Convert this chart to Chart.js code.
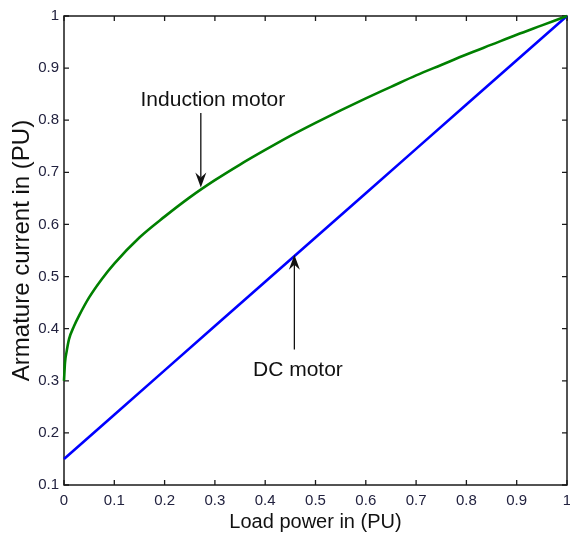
<!DOCTYPE html>
<html>
<head>
<meta charset="utf-8">
<script src="https://cdn.jsdelivr.net/npm/chart.js@4"></script>
<style>
  html, body { margin: 0; padding: 0; background: #fff; }
  #wrap { width: 570px; height: 543px; }
</style>
</head>
<body>
<div id="wrap"><canvas id="c" width="570" height="543"></canvas></div>
<script>
// ---- data ----
const inductionX = [0, 0.002, 0.005, 0.01, 0.02, 0.03, 0.05, 0.075, 0.1, 0.15, 0.2, 0.25, 0.3, 0.35, 0.4, 0.45, 0.5, 0.55, 0.6, 0.65, 0.7, 0.75, 0.8, 0.85, 0.9, 0.95, 1.0];
const inductionY = [0.30, 0.335, 0.355, 0.38, 0.405, 0.425, 0.46, 0.495, 0.525, 0.575, 0.615, 0.652, 0.685, 0.715, 0.743, 0.770, 0.795, 0.819, 0.842, 0.864, 0.886, 0.906, 0.926, 0.945, 0.964, 0.982, 1.0];
const dcX = [0, 0.1, 0.2, 0.3, 0.4, 0.5, 0.6, 0.7, 0.8, 0.9, 1.0];
const dcY = [0.15, 0.235, 0.32, 0.405, 0.49, 0.575, 0.66, 0.745, 0.83, 0.915, 1.0];

const xTickValues = [0, 0.1, 0.2, 0.3, 0.4, 0.5, 0.6, 0.7, 0.8, 0.9, 1];
const xTickLabels = ['0', '0.1', '0.2', '0.3', '0.4', '0.5', '0.6', '0.7', '0.8', '0.9', '1'];
const yTickValues = [0.1, 0.2, 0.3, 0.4, 0.5, 0.6, 0.7, 0.8, 0.9, 1];
const yTickLabels = ['0.1', '0.2', '0.3', '0.4', '0.5', '0.6', '0.7', '0.8', '0.9', '1'];

const xTitle = 'Load power in (PU)';
const yTitle = 'Armature current in (PU)';

// annotations: label text, label position (data), arrow start and tip (data)
const annotations = [
  { text: 'Induction motor', at: [0.296, 0.838], from: [0.272, 0.814], to: [0.272, 0.671] },
  { text: 'DC motor', at: [0.465, 0.321], from: [0.458, 0.360], to: [0.458, 0.542] }
];

const toPoints = (xs, ys) => xs.map((x, i) => ({ x: x, y: ys[i] }));

const framePlugin = {
  id: 'frame',
  beforeDatasetsDraw(chart) {
    const { ctx, chartArea: a, scales } = chart;
    ctx.save();
    ctx.strokeStyle = '#1a1a1a';
    ctx.lineWidth = 1.5;
    ctx.strokeRect(a.left, a.top, a.right - a.left, a.bottom - a.top);
    ctx.lineWidth = 1.3;
    const tl = 5;
    ctx.beginPath();
    xTickValues.forEach(v => {
      const px = scales.x.getPixelForValue(v);
      ctx.moveTo(px, a.bottom); ctx.lineTo(px, a.bottom - tl);
      ctx.moveTo(px, a.top); ctx.lineTo(px, a.top + tl);
    });
    yTickValues.forEach(v => {
      const py = scales.y.getPixelForValue(v);
      ctx.moveTo(a.left, py); ctx.lineTo(a.left + tl, py);
      ctx.moveTo(a.right, py); ctx.lineTo(a.right - tl, py);
    });
    ctx.stroke();
    ctx.restore();
  },
  afterDatasetsDraw(chart) {
    const { ctx, scales } = chart;
    ctx.save();
    annotations.forEach(an => {
      const tx = scales.x.getPixelForValue(an.at[0]);
      const ty = scales.y.getPixelForValue(an.at[1]);
      ctx.fillStyle = '#111';
      ctx.font = '21px Arial, "Liberation Sans", sans-serif';
      ctx.textAlign = 'center';
      ctx.textBaseline = 'middle';
      ctx.fillText(an.text, tx, ty);

      const x1 = scales.x.getPixelForValue(an.from[0]);
      const y1 = scales.y.getPixelForValue(an.from[1]);
      const x2 = scales.x.getPixelForValue(an.to[0]);
      const y2 = scales.y.getPixelForValue(an.to[1]);
      const ang = Math.atan2(y2 - y1, x2 - x1);
      const hl = 15, hw = 5.5, notch = 5;
      ctx.strokeStyle = '#111';
      ctx.lineWidth = 1.3;
      ctx.beginPath();
      ctx.moveTo(x1, y1);
      ctx.lineTo(x2 - Math.cos(ang) * (hl - notch), y2 - Math.sin(ang) * (hl - notch));
      ctx.stroke();
      const bx = x2 - Math.cos(ang) * hl, by = y2 - Math.sin(ang) * hl;
      const nx = x2 - Math.cos(ang) * (hl - notch), ny = y2 - Math.sin(ang) * (hl - notch);
      const px = -Math.sin(ang), py = Math.cos(ang);
      ctx.beginPath();
      ctx.moveTo(x2, y2);
      ctx.lineTo(bx + px * hw, by + py * hw);
      ctx.lineTo(nx, ny);
      ctx.lineTo(bx - px * hw, by - py * hw);
      ctx.closePath();
      ctx.fillStyle = '#111';
      ctx.fill();
    });
    ctx.restore();
  }
};

new Chart(document.getElementById('c'), {
  type: 'line',
  data: {
    datasets: [
      {
        label: 'Induction motor',
        data: toPoints(inductionX, inductionY),
        borderColor: '#008000',
        borderWidth: 2.6,
        pointRadius: 0,
        cubicInterpolationMode: 'monotone',
        fill: false,
        clip: 4
      },
      {
        label: 'DC motor',
        data: toPoints(dcX, dcY),
        borderColor: '#0000ff',
        borderWidth: 2.6,
        pointRadius: 0,
        tension: 0,
        fill: false,
        clip: 4
      }
    ]
  },
  plugins: [framePlugin],
  options: {
    responsive: false,
    animation: false,
    events: [],
    layout: { padding: { left: 0, right: 3, top: 16, bottom: 0 } },
    plugins: { legend: { display: false }, tooltip: { enabled: false } },
    scales: {
      x: {
        type: 'linear',
        min: 0,
        max: 1,
        grid: { display: false, drawTicks: false },
        border: { display: false },
        afterBuildTicks: s => { s.ticks = xTickValues.map(v => ({ value: v })); },
        afterFit: s => { s.height = 58; s.paddingLeft = 0; s.paddingRight = 0; },
        ticks: {
          autoSkip: false,
          maxRotation: 0,
          padding: 7,
          color: '#22223f',
          font: { family: 'Arial, "Liberation Sans", sans-serif', size: 15 },
          callback: (v, i) => xTickLabels[i]
        },
        title: {
          display: true,
          text: xTitle,
          color: '#111',
          font: { family: 'Arial, "Liberation Sans", sans-serif', size: 20 },
          padding: { top: 0, bottom: 9 }
        }
      },
      y: {
        type: 'linear',
        min: 0.1,
        max: 1,
        grid: { display: false, drawTicks: false },
        border: { display: false },
        afterBuildTicks: s => { s.ticks = yTickValues.map(v => ({ value: v })); },
        afterFit: s => { s.width = 64; s.paddingTop = 0; s.paddingBottom = 0; },
        ticks: {
          autoSkip: false,
          padding: 5,
          color: '#22223f',
          font: { family: 'Arial, "Liberation Sans", sans-serif', size: 15 },
          callback: (v, i) => yTickLabels[i]
        },
        title: {
          display: true,
          text: yTitle,
          color: '#111',
          font: { family: 'Arial, "Liberation Sans", sans-serif', size: 24 },
          padding: { top: 8, bottom: 0 }
        }
      }
    }
  }
});
</script>
</body>
</html>
